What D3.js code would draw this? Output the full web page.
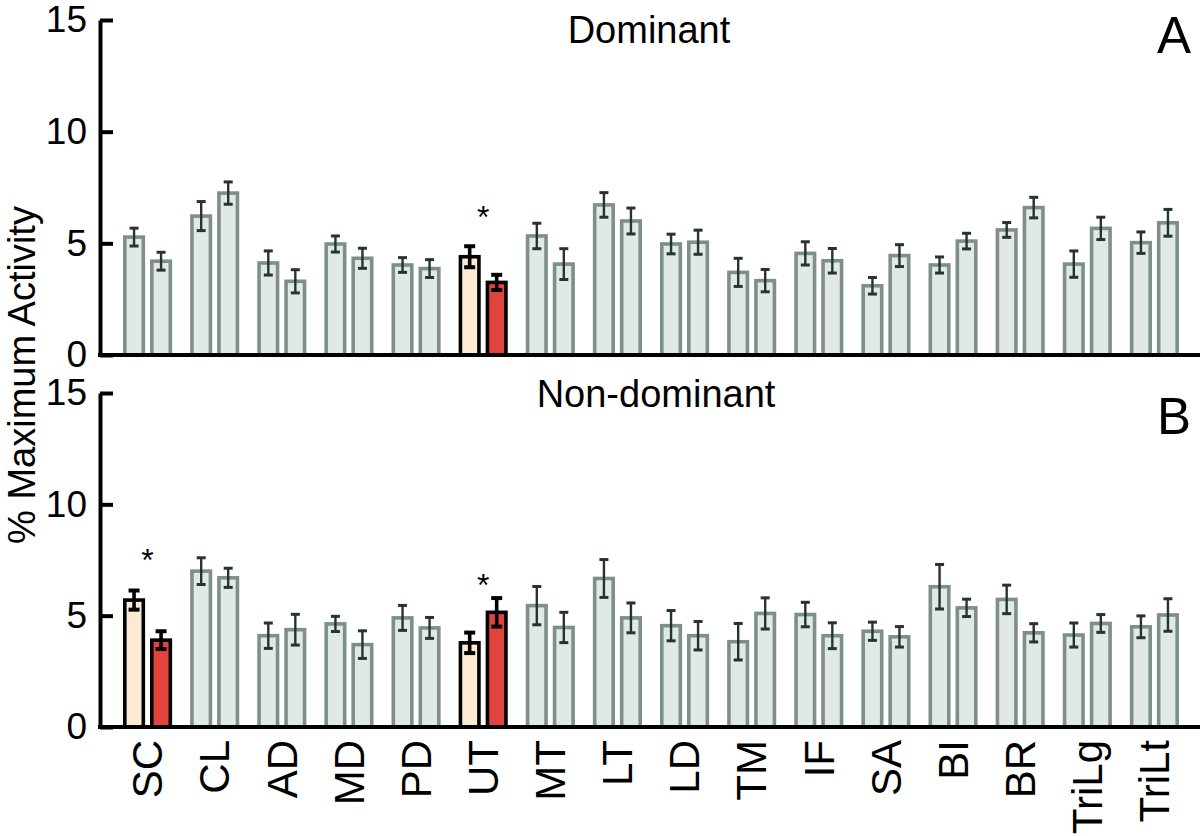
<!DOCTYPE html>
<html>
<head>
<meta charset="utf-8">
<script src="https://cdn.jsdelivr.net/npm/d3@7"></script>
<style>
  html, body { margin: 0; padding: 0; background: #fff; }
  svg { display: block; }
  text { font-family: "Liberation Sans", Arial, sans-serif; fill: #000; }
</style>
</head>
<body>
<svg id="chart" width="1200" height="836"></svg>
<script>
// ---- data ----
const categories = ["SC","CL","AD","MD","PD","UT","MT","LT","LD","TM","IF","SA","BI","BR","TriLg","TriLt"];
const yTicks = [0, 5, 10, 15];

// Panel A: Dominant
const domMean1 = [5.28, 6.22, 4.12, 4.97, 4.03, 4.40, 5.33, 6.72, 4.97, 3.70, 4.55, 3.10, 4.03, 5.60, 4.07, 5.03];
const domErr1  = [0.40, 0.65, 0.54, 0.36, 0.33, 0.47, 0.57, 0.55, 0.44, 0.63, 0.52, 0.37, 0.36, 0.33, 0.59, 0.48];
const domMean2 = [4.20, 7.25, 3.30, 4.33, 3.87, 3.25, 4.07, 6.00, 5.05, 3.33, 4.22, 4.45, 5.10, 6.60, 5.67, 5.92];
const domErr2  = [0.40, 0.50, 0.52, 0.45, 0.40, 0.34, 0.69, 0.58, 0.54, 0.50, 0.55, 0.49, 0.35, 0.46, 0.50, 0.60];

// Panel B: Non-dominant
const ndMean1 = [5.70, 7.00, 4.10, 4.63, 4.90, 3.78, 5.45, 6.67, 4.55, 3.83, 5.05, 4.30, 6.30, 5.73, 4.13, 4.50];
const ndErr1  = [0.43, 0.60, 0.57, 0.34, 0.56, 0.46, 0.86, 0.85, 0.68, 0.82, 0.55, 0.41, 1.00, 0.64, 0.54, 0.49];
const ndMean2 = [3.90, 6.70, 4.37, 3.70, 4.45, 5.15, 4.47, 4.90, 4.10, 5.10, 4.10, 4.05, 5.35, 4.23, 4.65, 5.03];
const ndErr2  = [0.40, 0.43, 0.69, 0.62, 0.47, 0.64, 0.68, 0.67, 0.64, 0.70, 0.58, 0.46, 0.39, 0.41, 0.40, 0.73];

// significant (highlighted) categories and asterisk heights (in data units)
const domSig = ["UT"];
const domStarAt = [6.5];
const ndSig = ["SC", "UT"];
const ndStarAt = [7.83, 6.69];

// ---- drawing ----
const svg = d3.select("#chart");
svg.append("rect").attr("width", 1200).attr("height", 836).attr("fill", "#fff");

const x0 = d3.scaleBand().domain(categories).range([114, 1188]).paddingInner(0.322).paddingOuter(0.161);
const x1 = d3.scaleBand().domain([0, 1]).range([0, x0.bandwidth()]).paddingInner(0.315);

const GREY_FILL = "#e0e9e7", GREY_STROKE = "#7e8f8b", ERR_GREY = "#26332f";
const CREAM = "#fcead3", RED = "#e1443f";

function panel(cfg) {
  const y = d3.scaleLinear().domain([0, 15]).range([cfg.y0, cfg.y15]);
  const g = svg.append("g");

  const rows = [];
  categories.forEach((c, i) => {
    const sig = cfg.sig.includes(c);
    rows.push({cat: c, k: 0, m: cfg.m1[i], e: cfg.e1[i], sig});
    rows.push({cat: c, k: 1, m: cfg.m2[i], e: cfg.e2[i], sig});
  });

  const bw = x1.bandwidth();
  g.selectAll("rect.bar").data(rows).join("rect")
    .attr("class", "bar")
    .attr("x", d => x0(d.cat) + x1(d.k))
    .attr("width", bw)
    .attr("y", d => y(d.m))
    .attr("height", d => y(0) - y(d.m))
    .attr("fill", d => d.sig ? (d.k === 0 ? CREAM : RED) : GREY_FILL)
    .attr("stroke", d => d.sig ? "#000" : GREY_STROKE)
    .attr("stroke-width", 3.6);

  const eb = g.selectAll("g.err").data(rows).join("g").attr("class", "err")
    .attr("transform", d => `translate(${x0(d.cat) + x1(d.k) + bw / 2},0)`);
  eb.append("line")
    .attr("y1", d => y(d.m - d.e)).attr("y2", d => y(d.m + d.e))
    .attr("stroke", d => d.sig ? "#000" : ERR_GREY)
    .attr("stroke-width", d => d.sig ? 3.6 : 2.4);
  [-1, 1].forEach(s => {
    eb.append("line")
      .attr("x1", d => d.sig ? -5.5 : -4.5).attr("x2", d => d.sig ? 5.5 : 4.5)
      .attr("y1", d => y(d.m + s * d.e)).attr("y2", d => y(d.m + s * d.e))
      .attr("stroke", d => d.sig ? "#000" : ERR_GREY)
      .attr("stroke-width", d => d.sig ? 4 : 3);
  });

  // y axis
  const ax = g.append("g").attr("transform", "translate(100,0)")
    .call(d3.axisLeft(y).tickValues(yTicks).tickSizeInner(-13).tickSizeOuter(0).tickPadding(13));
  ax.select(".domain").attr("stroke", "#000").attr("stroke-width", 4);
  ax.selectAll(".tick line").attr("stroke", "#000").attr("stroke-width", 4);
  ax.selectAll(".tick text").attr("font-size", 37).attr("fill", "#000")
    .attr("font-family", '"Liberation Sans", Arial, sans-serif');

  // x axis line
  g.append("line").attr("x1", 98).attr("x2", 1200)
    .attr("y1", y(0)).attr("y2", y(0)).attr("stroke", "#000").attr("stroke-width", 4);

  // asterisks
  cfg.sig.forEach((c, i) => {
    g.append("text").attr("x", x0(c) + x0.bandwidth() / 2)
      .attr("y", y(cfg.stars[i]) + 18)
      .attr("text-anchor", "middle").attr("font-size", 32).text("*");
  });

  // title & panel letter
  g.append("text").attr("x", cfg.titleX).attr("y", cfg.titleY)
    .attr("text-anchor", "middle").attr("font-size", 38).text(cfg.title);
  g.append("text").attr("x", 1174).attr("y", cfg.letterY)
    .attr("text-anchor", "middle").attr("font-size", 51).text(cfg.letter);

  if (cfg.xLabels) {
    const xa = g.append("g").attr("transform", `translate(0,${y(0)})`)
      .call(d3.axisBottom(x0).tickSize(0).tickPadding(0));
    xa.select(".domain").remove();
    xa.selectAll(".tick text")
      .attr("transform", "rotate(-90)")
      .attr("text-anchor", "end")
      .attr("x", -13).attr("y", 0).attr("dy", "0.35em")
      .attr("font-size", 42).attr("fill", "#000")
      .attr("font-family", '"Liberation Sans", Arial, sans-serif');
  }
}

panel({y0: 355, y15: 20, m1: domMean1, e1: domErr1, m2: domMean2, e2: domErr2,
       sig: domSig, stars: domStarAt, title: "Dominant", titleX: 649, titleY: 43,
       letter: "A", letterY: 53, xLabels: false});
panel({y0: 727, y15: 393, m1: ndMean1, e1: ndErr1, m2: ndMean2, e2: ndErr2,
       sig: ndSig, stars: ndStarAt, title: "Non-dominant", titleX: 656, titleY: 407,
       letter: "B", letterY: 434, xLabels: true});

// y axis title
svg.append("text")
  .attr("transform", "translate(35,375) rotate(-90)")
  .attr("text-anchor", "middle").attr("font-size", 38)
  .text("% Maximum Activity");
</script>
</body>
</html>
